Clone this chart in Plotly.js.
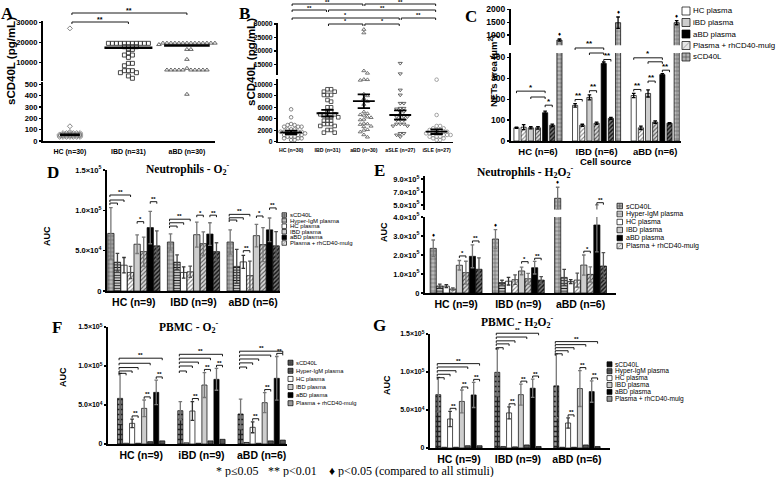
<!DOCTYPE html>
<html><head><meta charset="utf-8">
<script src="https://cdn.plot.ly/plotly-3.0.1.min.js"></script>
<style>html,body{margin:0;padding:0;background:#fff}#chart{width:778px;height:477px}</style>
</head><body><div id="chart"></div>
<script>
// ================= DATA =================
// Panel A : sCD40L (pg/mL)
const catsA = ['HC (n=30)','IBD (n=31)','aBD (n=30)'];
const hcA  = [27000,130,80,70,70,70,70,70,70,58,58,58,58,58,58,58,47,47,47,47,47,47,47,36,36,36,36,36,36,36];
const ibdA = [19600,19600,19600,19600,19600,19600,19600,19600,19600,19600,19600,17900,17900,17900,17900,16600,16600,14900,13800,13800,12650,9700,9700,8500,6060,6060,6060,5070,5070,3450,2300];
const abdA = [19700,19700,19700,19700,19700,19700,19700,19700,19700,19700,19700,19700,19700,19700,19000,16600,16600,11670,7240,6400,6400,6400,6400,6400,6400,6400,6400,6400,6400,412];
const meanA = [55,17400,18500];
const ticksAlo = [0,100,200,300,400,500];
const ticksAup = [10000,20000,30000];

// Panel B
const catsB = ['HC (n=30)','IBD (n=31)','aBD (n=30)','aSLE (n=27)','iSLE (n=27)'];
const hcB   = [5640,4250,3080,2900,2900,2610,2610,2610,2150,2150,2150,1740,1740,1740,1740,1450,1450,1450,1450,1170,1170,1170,870,870,870,590,590,590,300,300];
const ibdB  = [9130,9130,8710,8710,8140,8140,8140,7260,6970,5990,5990,5230,5230,4770,4770,4770,4250,4250,4250,3660,3660,3660,3080,3080,3080,2740,2740,2040,2040,1570,1570];
const abdB  = [28000,26700,12600,11700,10850,10800,10700,8300,8000,7500,7000,6500,5200,4900,4700,4600,4300,4200,3900,3800,3200,3100,3000,2700,2600,2100,2000,1700,1200,800];
const asleB = [15400,11500,9000,8140,6690,6690,5820,5820,5700,5230,5230,4650,4360,4360,4360,3800,3800,3800,3080,3080,3080,2740,2740,1450,1450,1170,870];
const isleB = [10800,4650,2740,2740,2330,2330,2040,2040,2040,1740,1740,1740,1450,1450,1450,1450,1170,1170,1170,1170,870,870,870,590,590,300,300];
const meanB = [1640,4950,7050,4650,1740];
const semB  = [300,580,1200,800,400];
const ticksBlo = [0,2000,4000,6000,8000,10000];
const ticksBup = [15000,20000,25000,30000];

// Panel C : NETs area
const catsC = ['HC (n=6)','IBD (n=6)','aBD (n=6)'];
const stimC = ['HC plasma','iBD plasma','aBD plasma','Plasma + rhCD40-mulg','sCD40L'];
const cHC = [63,170,217],      cHCErr = [3,8,10];
const cHCm = [66,75,63],       cHCmErr = [12,5,8];
const cIBD = [63,208,227],     cIBDErr = [5,12,17];
const cIBDm = [63,85,90],      cIBDmErr = [6,5,6];
const cABD = [135,370,317],    cABDErr = [8,7,5];
const cABDm = [75,108,85],     cABDmErr = [6,5,3];
const cSC = [805,1480,1480],   cSCErr = [40,220,80];
const ticksClo = [0,100,200,300,400];
const ticksCup = [1000,1500,2000];

// Panels D-G : AUC
const stimDG = ['sCD40L','Hyper-IgM plasma','HC plasma','IBD plasma','aBD plasma','Plasma + rhCD40-mulg'];
const catsD = ['HC (n=9)','IBD (n=9)','aBD (n=6)'];
const catsF = ['HC (n=9)','iBD (n=9)','aBD (n=6)'];
// D : Neutrophils - O2-
const dSC = [71400,60700,60700],   dSCErr = [32000,10000,15000];
const dHy = [35700,35700,30500],   dHyErr = [11000,9000,21000];
const dHC = [32000,23000,36100],   dHCErr = [9500,7000,8000];
const dHCm = [23000,23800,19000],  dHCmErr = [7500,7000,18000];
const dIB = [58000,69800,68600],   dIBErr = [11500,15500,14000];
const dIBm = [48800,58700,57500],  dIBmErr = [18000,14700,21000];
const dAB = [78600,70600,75800],   dABErr = [20000,14000,14700];
const dABm = [56000,48800,56000],  dABmErr = [18600,11000,17500];
// E : Neutrophils - H2O2-
const eSC = [235000,284000,603000], eSCErr = [44000,50000,170000];
const eHy = [37000,55000,82000],    eHyErr = [10000,12000,42000];
const eHC = [36000,62000,60000],    eHCErr = [8000,20000,10000];
const eHCm = [21000,70000,68000],   eHCmErr = [6000,25000,37000];
const eIB = [146000,116000,147000], eIBErr = [25000,20000,53000];
const eIBm = [107000,75000,98000],  eIBmErr = [60000,28000,40000];
const eAB = [193000,133000,358000], eABErr = [60000,33000,142000];
const eABm = [125000,68000,142000], eABmErr = [60000,18000,70000];
// F : PBMC - O2-
const fSC = [58500,42700,38500],  fSCErr = [32000,11600,19000];
const fHy = [1000,1500,2000];
const fHC = [26500,42300,21400],  fHCErr = [5500,12000,7000];
const fHCm = [1000,1000,1000];
const fIB = [45700,75600,53000],  fIBErr = [10700,16000,12800];
const fIBm = [3000,4000,4000];
const fAB = [66200,82900,84200],  fABErr = [15800,14000,28000];
const fABm = [4000,6000,5000];
// G : PBMC - H2O2-
const gSC = [70200,99600,81800],  gSCErr = [22700,31000,42000];
const gHy = [1000,2000,1000];
const gHC = [38200,46200,32900],  gHCErr = [10000,8000,6700];
const gHCm = [1000,1500,1000];
const gIB = [61300,70200,78200],  gIBErr = [15000,13800,23600];
const gIBm = [3000,4000,4000];
const gAB = [69800,78700,74200],  gABErr = [16500,12000,14000];
const gABm = [3000,2000,2000];
const ticksAUC = [0,50000,100000,150000];
const labelsAUC = ['0','5.0×10<sup>4</sup>','1.0×10<sup>5</sup>','1.5×10<sup>5</sup>'];
const ticksElo = [0,100000,200000,300000,400000];
const labelsElo = ['0','1.0×10<sup>5</sup>','2.0×10<sup>5</sup>','3.0×10<sup>5</sup>','4.0×10<sup>5</sup>'];
const ticksEup = [500000,700000,900000];
const labelsEup = ['5.0×10<sup>5</sup>','7.0×10<sup>5</sup>','9.0×10<sup>5</sup>'];

// ================= LAYOUT HELPERS =================
const W=778,H=477;
const SANS='Liberation Sans, Arial, sans-serif', SERIF='Liberation Serif, Times New Roman, serif';
const traces=[], shapes=[], annotations=[];
const layout={width:W,height:H,margin:{l:0,r:0,t:0,b:0},paper_bgcolor:'#fff',plot_bgcolor:'rgba(0,0,0,0)',
  showlegend:false,barmode:'overlay',shapes:shapes,annotations:annotations,font:{family:SANS,color:'#000'}};

const geo = {
 A:{xid:'x', x:[43,215], xr:[-0.46,2.48], lo:{id:'y',px:[141,82],r:[0,520]}, up:{id:'y2',px:[80.5,21.3],r:[1200,30500]}},
 B:{xid:'x2',x:[278,453],xr:[-0.36,4.45], lo:{id:'y3',px:[141.7,79.1],r:[0,10900]}, up:{id:'y4',px:[75.1,22.7],r:[11000,30500]}},
 C:{xid:'x3',x:[511,681],xr:[-0.46,2.44], lo:{id:'y5',px:[141,53],r:[0,420]}, up:{id:'y6',px:[45.3,9.3],r:[600,2000]}},
 D:{xid:'x4',x:[107,280],xr:[-0.45,2.45], lo:{id:'y7',px:[291,170],r:[0,150000]}},
 E:{xid:'x5',x:[425,616],xr:[-0.5,2.57],  lo:{id:'y8',px:[293,217],r:[0,400000]}, up:{id:'y9',px:[209.5,175.8],r:[430000,950000]}},
 F:{xid:'x6',x:[108,287],xr:[-0.55,2.42], lo:{id:'y10',px:[444,327],r:[0,150000]}},
 G:{xid:'x7',x:[430,610],xr:[-0.49,2.56], lo:{id:'y11',px:[448,334],r:[0,150000]}}
};
function xPx(g,v){return g.x[0]+(v-g.xr[0])/(g.xr[1]-g.xr[0])*(g.x[1]-g.x[0]);}
function yPx(ax,v){return ax.px[0]+(v-ax.r[0])/(ax.r[1]-ax.r[0])*(ax.px[1]-ax.px[0]);}
const PX=x=>x/W, PY=y=>1-y/H;
function axKey(id){return (id[0]==='x'?'xaxis':'yaxis')+id.slice(1);}
function font(size,bold,fam){return {family:fam||SANS,size:size,color:'#000',weight:bold?700:400};}
function text(x,y,t,fnt,o){annotations.push(Object.assign({xref:'paper',yref:'paper',x:PX(x),y:PY(y),text:t,showarrow:false,
  xanchor:'center',yanchor:'middle',font:fnt,borderpad:0},o||{}));}
function seg(x0,y0,x1,y1,w,c){shapes.push({type:'line',xref:'paper',yref:'paper',x0:PX(x0),y0:PY(y0),x1:PX(x1),y1:PY(y1),line:{color:c||'#000',width:w||0.9}});}
function bracket(x0,x1,y,label,fs){seg(x0,y,x1,y);seg(x0,y,x0,y+2);seg(x1,y,x1,y+2);
  if(label) text((x0+x1)/2,y+1.5,label,font(fs||7,true),{yanchor:'bottom'});}

function xAxis(g,o){layout[axKey(g.xid)]=Object.assign({domain:[PX(g.x[0]),PX(g.x[1])],range:g.xr,anchor:g.lo.id,showline:true,
  linewidth:1.6,linecolor:'#000',showgrid:false,zeroline:false,ticks:'',fixedrange:true},o);}
function yAxis(g,ax,vals,labels,fs){layout[axKey(ax.id)]={domain:[PY(ax.px[0]),PY(ax.px[1])],range:ax.r,anchor:g.xid,showline:true,
  linewidth:1.6,linecolor:'#000',showgrid:false,zeroline:false,ticks:'outside',ticklen:2.5,tickwidth:1.2,tickcolor:'#000',
  tickvals:vals,ticktext:labels,tickfont:font(fs,true),ticklabelstandoff:0,fixedrange:true};}

// deterministic beeswarm layout of points within a category
function swarm(g,ax,vals,cat,d,vthr){
  const ppu=(g.x[1]-g.x[0])/(g.xr[1]-g.xr[0]);
  const order=vals.map((v,i)=>i).sort((a,b)=>vals[b]-vals[a]);
  const placed=[], xs=new Array(vals.length);
  order.forEach(i=>{
    const py=yPx(ax,vals[i]);
    for(let k=0;k<60;k++){
      const s=(k%2?1:-1)*Math.ceil(k/2), dx=s*d;
      if(!placed.some(q=>Math.abs(q.py-py)<vthr&&Math.abs(q.dx-dx)<d*0.99)){placed.push({py,dx});xs[i]=cat+dx/ppu;break;}
    }
  });
  return xs;
}
function scatterPanel(g,groups,styles,dArr,vArr){
  groups.forEach((vals,c)=>{
    ['lo','up'].forEach(k=>{
      const ax=g[k];
      const sub=vals.filter(v=>k==='lo'?v<=g.lo.r[1]:v>g.lo.r[1]);
      if(!sub.length) return;
      const xs=swarm(g,ax,sub,c,dArr[c],vArr[c]);
      const st=styles[c];
      traces.push({type:'scatter',mode:'markers',x:xs,y:sub,xaxis:g.xid,yaxis:ax.id,cliponaxis:false,hoverinfo:'skip',
        marker:{symbol:st[0],size:st[2],color:st[1],line:{width:0.9,color:st[1]}}});
    });
  });
}

const ST={
 sc:{color:'#b0b0b0',pattern:{shape:'+',fillmode:'replace',bgcolor:'#b8b8b8',fgcolor:'#555',size:4,solidity:0.25}},
 hy:{color:'#fff',pattern:{shape:'-',fillmode:'replace',bgcolor:'#fff',fgcolor:'#222',size:2.6,solidity:0.5}},
 hc:{color:'#fff'},
 ib:{color:'#cdcdcd'},
 ab:{color:'#000'},
 m1:{color:'#fff',pattern:{shape:'/',fillmode:'replace',bgcolor:'#fff',fgcolor:'#888',size:3,solidity:0.35}},
 m2:{color:'#ccc',pattern:{shape:'/',fillmode:'replace',bgcolor:'#d8d8d8',fgcolor:'#555',size:3,solidity:0.35}},
 m3:{color:'#555',pattern:{shape:'/',fillmode:'replace',bgcolor:'#777',fgcolor:'#111',size:3,solidity:0.45}},
 scFG:{color:'#777',pattern:{shape:'+',fillmode:'replace',bgcolor:'#9a9a9a',fgcolor:'#222',size:5,solidity:0.55}},
 mFG:{color:'#444',pattern:{shape:'.',fillmode:'replace',bgcolor:'#888',fgcolor:'#111',size:2,solidity:0.5}}
};

function barPanel(g,cats,series,gw,inner){
  const n=series.length, slot=gw/n;
  series.forEach((s,i)=>{
    ['lo','up'].forEach(k=>{
      if(!g[k]) return;
      traces.push({type:'bar',x:cats,y:s.v,xaxis:g.xid,yaxis:g[k].id,width:slot*(1-inner),offset:-gw/2+i*slot+slot*inner/2,
        hoverinfo:'skip',marker:Object.assign({},s.st,{line:{color:'#000',width:0.7}}),
        error_y:s.e?{type:'data',array:s.e,visible:true,color:s.ec||'#000',thickness:1.3,width:1.8}:{visible:false}});
    });
  });
  return c=>i=>xPx(g,c-gw/2+(i+0.5)*slot);
}
function swatch(x,y,sw,fill,deco){
  shapes.push({type:'rect',xref:'paper',yref:'paper',x0:PX(x),x1:PX(x+sw),y0:PY(y+sw/2),y1:PY(y-sw/2),fillcolor:fill,line:{color:'#000',width:0.7}});
  if(deco==='grid'){seg(x+sw/2,y-sw/2,x+sw/2,y+sw/2,0.6,'#444');seg(x,y,x+sw,y,0.6,'#444');}
  if(deco==='hl'){seg(x,y-sw/6,x+sw,y-sw/6,0.6,'#222');seg(x,y+sw/6,x+sw,y+sw/6,0.6,'#222');}
  if(deco==='hatch'){seg(x,y+sw/2,x+sw,y-sw/2,0.6,'#777');}
}
function legend(x,y0,dy,sw,labels,fills,decos,fs){
  labels.forEach((l,i)=>{const y=y0+i*dy;swatch(x,y,sw,fills[i],decos[i]);text(x+sw+2,y,l,font(fs,false),{xanchor:'left'});});
}

// ================= PANEL A =================
(function(){
  const g=geo.A;
  scatterPanel(g,[hcA,ibdA,abdA],[['diamond-open','#777',3.8],['square-open','#333',4],['triangle-up-open','#555',4]],[3.4,4,4],[1.0,2.6,2.6]);
  const hw=[0.17,0.41,0.39];
  meanA.forEach((m,c)=>{const ax=m<=g.lo.r[1]?g.lo:g.up;
    traces.push({type:'scatter',mode:'lines',x:[c-hw[c],c+hw[c]],y:[m,m],xaxis:g.xid,yaxis:ax.id,line:{color:'#000',width:2.6},hoverinfo:'skip'});});
  xAxis(g,{type:'linear',tickvals:catsA.map((c,i)=>i),ticktext:catsA,tickfont:font(7,true),ticklabelstandoff:3});
  yAxis(g,g.lo,ticksAlo,ticksAlo.map(String),7.6);
  yAxis(g,g.up,ticksAup,ticksAup.map(String),7.6);
  const xc=c=>xPx(g,c);
  bracket(xc(0)+2,xc(2),13,'**',7);
  bracket(xc(0)+2,xc(1),22,'**',7);
  text(11,61,'sCD40L (pg/mL)',font(11.5,true),{textangle:-90});
  text(8,14,'A',font(17,true,SERIF));
})();

// ================= PANEL B =================
(function(){
  const g=geo.B;
  scatterPanel(g,[hcB,ibdB,abdB,asleB,isleB],[['circle-open','#777',3.6],['square-open','#444',3.6],['triangle-up-open','#666',3.6],['triangle-down-open','#555',3.6],['circle-open','#999',3.6]],[3.5,3.6,3.6,3.6,3.5],[3,3,3,3,3]);
  const xs=[],ys=[];
  meanB.forEach((m,c)=>{const s=semB[c];
    xs.push(c-0.3,c+0.3,null,c,c,null,c-0.17,c+0.17,null,c-0.17,c+0.17,null);
    ys.push(m,m,null,m-s,m+s,null,m-s,m-s,null,m+s,m+s,null);});
  traces.push({type:'scatter',mode:'lines',x:xs,y:ys,xaxis:g.xid,yaxis:g.lo.id,line:{color:'#000',width:1.8},hoverinfo:'skip',connectgaps:false});
  xAxis(g,{type:'linear',tickvals:catsB.map((c,i)=>i),ticktext:catsB,tickfont:font(5.2,true),ticklabelstandoff:2});
  yAxis(g,g.lo,ticksBlo,ticksBlo.map(String),6.8);
  yAxis(g,g.up,ticksBup,ticksBup.map(String),6.8);
  const xc=c=>xPx(g,c);
  const br=[[0,2,4,'**'],[2,4,4,'**'],[0,1,10,'**'],[1,4,10,'**'],[0,3,18,'*'],[3,4,18,'**'],[1,2,24,'*'],[2,3,24,'*']];
  br.forEach(b=>bracket(xc(b[0])+1,xc(b[1])-1,b[2],b[3],5.5));
  text(251,62,'sCD40L (pg/mL)',font(11.5,true),{textangle:-90});
  text(244,14,'B',font(17,true,SERIF));
})();

// ================= PANEL C =================
(function(){
  const g=geo.C;
  const bx=barPanel(g,catsC,[
    {v:cHC,e:cHCErr,st:ST.hc},{v:cHCm,e:cHCmErr,st:ST.m1},{v:cIBD,e:cIBDErr,st:ST.ib},{v:cIBDm,e:cIBDmErr,st:ST.m2},
    {v:cABD,e:cABDErr,st:ST.ab},{v:cABDm,e:cABDmErr,st:ST.m3},{v:cSC,e:cSCErr,st:ST.sc}],0.855,0.28);
  xAxis(g,{type:'category',tickfont:font(9.5,true),ticklabelstandoff:1});
  yAxis(g,g.lo,ticksClo,ticksClo.map(String),8.5);
  yAxis(g,g.up,ticksCup,ticksCup.map(String),8.5);
  const br=[[0,0,4,238,'*'],[0,2,4,210,''],[0,4,5,171,'*'],
            [1,0,4,444,'**'],[1,2,4,420,''],[1,0,1,198,'**'],[1,2,3,240,'**'],[1,4,5,389,'**'],
            [2,0,4,397,'*'],[2,2,4,378,''],[2,0,1,246,'**'],[2,2,3,286,'**'],[2,4,5,338,'**']];
  br.forEach(b=>bracket(bx(b[0])(b[1]),bx(b[0])(b[2]),yPx(g.lo,b[3]),b[4],8));
  cSC.forEach((v,c)=>{const t=v+cSCErr[c];const ax=t>g.lo.r[1]?g.up:g.lo;text(bx(c)(6),yPx(ax,t)-1,'♦',font(6,true),{yanchor:'bottom'});});
  legend(682,11,11.5,8,stimC,['#fff','#cdcdcd','#000','#e6e6e6','#b0b0b0'],['','','','hatch','grid'],7.9);
  text(493,71,'NETs area (µm<sup>2</sup>)',font(9.5,true),{textangle:-90});
  text(605,162,'Cell source',font(9.5,true));
  text(471,16,'C',font(17,true,SERIF));
})();

// ================= PANELS D–G =================
function aucPanel(key,cats,S,scStyle,mStyles,gw,inner){
  const g=geo[key];
  return barPanel(g,cats,[
    {v:S[0],e:S[1],st:scStyle,ec:'#777'},{v:S[2],e:S[3],st:ST.hy,ec:'#444'},{v:S[4],e:S[5],st:ST.hc,ec:'#333'},
    {v:S[6],e:S[7],st:mStyles[0],ec:'#555'},{v:S[8],e:S[9],st:ST.ib,ec:'#777'},{v:S[10],e:S[11],st:mStyles[1],ec:'#777'},
    {v:S[12],e:S[13],st:ST.ab,ec:'#777'},{v:S[14],e:S[15],st:mStyles[2],ec:'#555'}],gw,inner);
}
function fan(bx,g,ax,c,targets,yv,label){
  const x0=bx(c)(0)-1;
  targets.forEach((t,k)=>bracket(x0,bx(c)(t),yPx(ax,yv[k]),'',7));
  const top=yv.indexOf(Math.max(...yv));
  text((x0+bx(c)(targets[top]))/2,yPx(ax,yv[top])+1,label,font(6,true),{yanchor:'bottom'});
}

// D
(function(){
  const g=geo.D;
  const bx=aucPanel('D',catsD,[dSC,dSCErr,dHy,dHyErr,dHC,dHCErr,dHCm,dHCmErr,dIB,dIBErr,dIBm,dIBmErr,dAB,dABErr,dABm,dABmErr],ST.sc,[ST.m1,ST.m2,ST.m3],0.88,0.04);
  xAxis(g,{type:'category',tickfont:font(10.5,true),ticklabelstandoff:1});
  yAxis(g,g.lo,ticksAUC,labelsAUC,7.5);
  fan(bx,g,g.lo,0,[1,2,3],[109000,112800,119000],'**');
  fan(bx,g,g.lo,1,[1,2,3],[80500,84600,89000],'**');
  fan(bx,g,g.lo,2,[1,2,3],[88000,90800,95000],'**');
  [[0,4,5,86000,'*'],[0,6,7,110700,'**'],[1,4,5,94000,'*'],[1,6,7,94000,'**'],[2,2,3,50000,'**'],[2,4,5,93000,'*'],[2,6,7,103000,'**']]
    .forEach(b=>bracket(bx(b[0])(b[1]),bx(b[0])(b[2]),yPx(g.lo,b[3]),b[4],6));
  legend(282,215,5.6,4.5,stimDG,['#b0b0b0','#fff','#fff','#cdcdcd','#000','#e6e6e6'],['grid','hl','','','','hatch'],6);
  text(47,236,'AUC',font(9,true),{textangle:-90});
  text(188,169,'Neutrophils - O<sub>2</sub><sup>-</sup>',font(11.5,true,SERIF));
  text(53,172,'D',font(17,true,SERIF));
})();

// E
(function(){
  const g=geo.E;
  const bx=aucPanel('E',catsD,[eSC,eSCErr,eHy,eHyErr,eHC,eHCErr,eHCm,eHCmErr,eIB,eIBErr,eIBm,eIBmErr,eAB,eABErr,eABm,eABmErr],ST.sc,[ST.m1,ST.m2,ST.m3],0.84,0.06);
  xAxis(g,{type:'category',tickfont:font(10.5,true),ticklabelstandoff:1});
  yAxis(g,g.lo,ticksElo,labelsElo,7.5);
  yAxis(g,g.up,ticksEup,labelsEup,7.5);
  [[0,4,5,195000,'*','lo'],[0,6,7,274000,'**','lo'],[1,4,5,165000,'*','lo'],[1,6,7,183000,'**','lo'],[2,4,5,220000,'*','lo'],[2,6,7,535000,'**','up']]
    .forEach(b=>bracket(bx(b[0])(b[1]),bx(b[0])(b[2]),yPx(g[b[5]],b[3]),b[4],6));
  eSC.forEach((v,c)=>{const t=v+eSCErr[c];const ax=t>g.lo.r[1]?g.up:g.lo;text(bx(c)(0),yPx(ax,t)-1,'♦',font(6,true),{yanchor:'bottom'});});
  legend(617,206,8,5.5,stimDG,['#b0b0b0','#fff','#fff','#cdcdcd','#000','#e6e6e6'],['grid','hl','','','','hatch'],7);
  text(384,232,'AUC',font(9,true),{textangle:-90});
  text(525,172,'Neutrophils - H<sub>2</sub>O<sub>2</sub><sup>-</sup>',font(11.5,true,SERIF));
  text(379,171,'E',font(17,true,SERIF));
})();

// F
(function(){
  const g=geo.F;
  const S=[fSC,fSCErr,fHy,null,fHC,fHCErr,fHCm,null,fIB,fIBErr,fIBm,null,fAB,fABErr,fABm,null];
  const bx=aucPanel('F',catsF,S,ST.scFG,[ST.mFG,ST.mFG,ST.mFG],0.8,0.15);
  xAxis(g,{type:'category',tickfont:font(10.5,true),ticklabelstandoff:1});
  yAxis(g,g.lo,ticksAUC,labelsAUC,7);
  fan(bx,g,g.lo,0,[1,2,3,5,7],[90600,93600,98000,103500,110000],'**');
  fan(bx,g,g.lo,1,[1,2,3,5,7],[93600,100000,105000,110000,115000],'**');
  fan(bx,g,g.lo,2,[1,2,3,5,7],[98700,104000,109000,114000,119000],'**');
  [[fHC,fHCErr,2],[fIB,fIBErr,4],[fAB,fABErr,6]].forEach(p=>p[0].forEach((v,c)=>
    bracket(bx(c)(p[2]),bx(c)(p[2]+1),yPx(g.lo,v+p[1][c]+4000),'**',6)));
  legend(288,362.7,8.1,5,stimDG,['#555','#666','#fff','#cdcdcd','#000','#999'],['grid','hl','','','',''],5.8);
  text(63,377,'AUC',font(9,true),{textangle:-90});
  text(188,327,'PBMC - O<sub>2</sub><sup>-</sup>',font(11.5,true,SERIF));
  text(57,327,'F',font(17,true,SERIF));
})();

// G
(function(){
  const g=geo.G;
  const S=[gSC,gSCErr,gHy,null,gHC,gHCErr,gHCm,null,gIB,gIBErr,gIBm,null,gAB,gABErr,gABm,null];
  const bx=aucPanel('G',catsD,S,ST.scFG,[ST.mFG,ST.mFG,ST.mFG],0.8,0.15);
  xAxis(g,{type:'category',tickfont:font(10.5,true),ticklabelstandoff:1});
  yAxis(g,g.lo,ticksAUC,labelsAUC,7);
  fan(bx,g,g.lo,0,[1,2,3,5,7],[92500,97000,101700,106600,111000],'**');
  fan(bx,g,g.lo,1,[1,2,3,5,7],[132000,137000,141000,146000,151000],'**');
  fan(bx,g,g.lo,2,[1,2,3,5,7],[124000,128000,132000,136000,140000],'**');
  [[gHC,gHCErr,2],[gIB,gIBErr,4],[gAB,gABErr,6]].forEach(p=>p[0].forEach((v,c)=>
    bracket(bx(c)(p[2]),bx(c)(p[2]+1),yPx(g.lo,v+p[1][c]+4000),'**',6)));
  legend(607,364.3,6.9,5,stimDG,['#111','#666','#fff','#cdcdcd','#000','#999'],['','hl','','','',''],6.6);
  text(387,385,'AUC',font(9,true),{textangle:-90});
  text(517,322,'PBMC - H<sub>2</sub>O<sub>2</sub><sup>-</sup>',font(11.5,true,SERIF));
  text(379,325,'G',font(17,true,SERIF));
})();

// footnote
text(215,471,'* p≤0.05',font(12,false,SERIF),{xanchor:'left'});
text(267,471,'** p<0.01',font(12,false,SERIF),{xanchor:'left'});
text(328,471,'♦ p<0.05 (compared to all stimuli)',font(12,false,SERIF),{xanchor:'left'});

Plotly.newPlot('chart',traces,layout,{staticPlot:true,displayModeBar:false});
</script></body></html>
